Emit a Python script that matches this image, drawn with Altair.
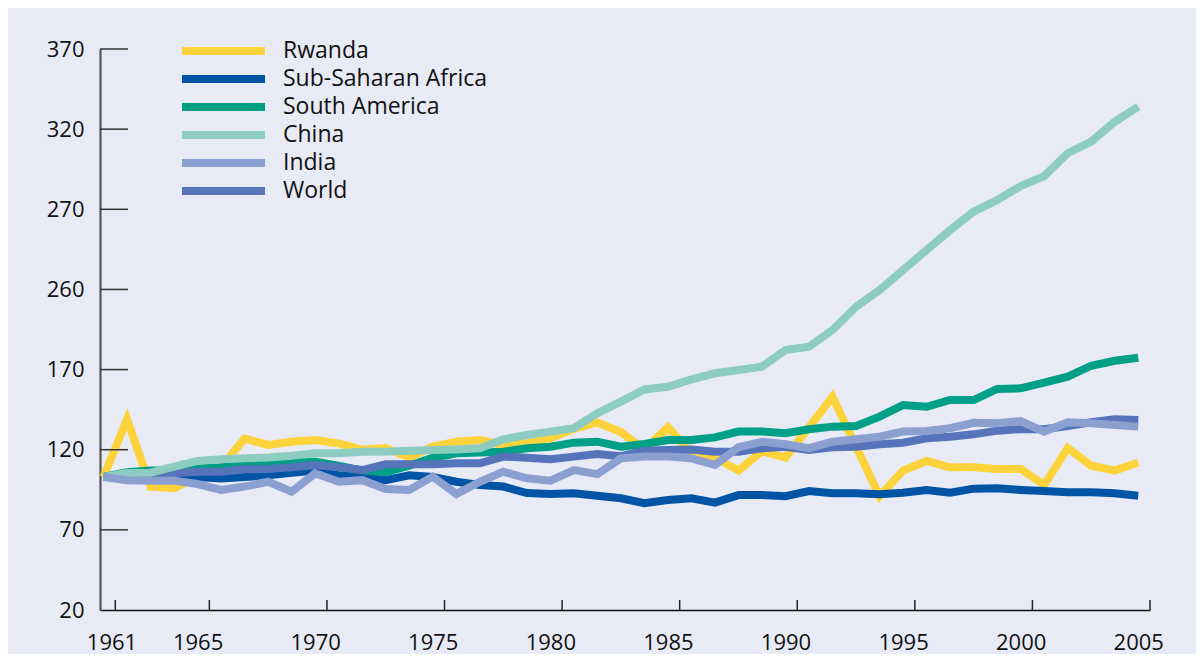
import altair as alt
import pandas as pd

years = list(range(1961, 2006))

rwanda = [103, 139, 97, 96, 103, 109, 127, 123, 125, 126, 124, 120, 121, 115, 122,
          125, 126, 123, 124, 127, 133, 137, 131, 120, 134, 118, 115, 107, 119, 115,
          134, 153, 122, 91, 107, 113, 109, 109, 108, 108, 98, 121, 110, 107, 112]
sub_saharan = [103, 105, 106, 105, 103, 102, 103, 104, 105.6, 107, 104, 103, 101, 104, 103,
               100, 98, 97, 93, 92.4, 92.8, 91.3, 89.7, 86.6, 88.6, 89.7, 87, 91.7, 91.7, 91,
               94.2, 92.8, 92.8, 92.2, 93.2, 94.9, 93.2, 95.7, 95.9, 94.9, 94.2, 93.4, 93.4, 92.8, 91.3]
south_america = [103, 106, 107, 107, 108.6, 109, 110, 111, 112, 112.5, 110, 107, 106, 110, 115,
                 117.8, 118.2, 118.8, 120.9, 121.9, 124.4, 125, 121.9, 123.6, 126, 126, 127.7, 131.3, 131.3, 130.3,
                 132.8, 134.4, 134.8, 140.6, 147.9, 146.8, 151, 151, 157.9, 158.3, 161.8, 165.6, 172.4, 175.5, 177.4]
china = [103, 105.5, 105.7, 109.4, 113, 114, 114.6, 115.2, 116.3, 117.8, 117.8, 118.8, 118.8, 119.4, 119.8,
         120.2, 120.9, 126.5, 129.2, 131.3, 133.4, 142.8, 150, 157.6, 159.3, 163.9, 167.7, 169.7, 171.8, 182.2,
         184.3, 194.7, 209.2, 219.6, 232.1, 244.6, 257, 268.5, 275.8, 284.5, 290.7, 305, 312.2, 324.6, 334]
india = [103, 101, 100.7, 100.7, 98.6, 94.9, 97, 100, 93.8, 105.3, 100, 101, 95.5, 94.9, 103.2,
         92.4, 100, 106.3, 102.2, 100.7, 107.3, 104.8, 114.6, 115.7, 115.7, 114.6, 110.5, 121.5, 125, 123.4,
         121, 125, 126.5, 128.1, 131.3, 131.7, 133.4, 136.8, 136.5, 137.9, 131.3, 137.1, 136.5, 135.4, 134.4]
world = [103, 102.8, 103.5, 105.3, 106.3, 106.3, 107.8, 108, 109, 110.5, 109, 107.3, 111, 111, 111,
         111.5, 111.5, 115.7, 115, 114, 115.7, 117.3, 116, 119.4, 119.8, 120.2, 118.8, 118.8, 120.9, 121.9,
         119.8, 121.5, 121.9, 123.4, 124.4, 127.1, 128.1, 129.6, 131.9, 132.8, 132.8, 134.8, 137.1, 139, 138.5]

series_names = ["Rwanda", "Sub-Saharan Africa", "South America", "China", "India", "World"]
series_colors = ["#FDD33B", "#0054A6", "#00A086", "#8DCDC1", "#8C9FD1", "#5574B9"]
series_values = [rwanda, sub_saharan, south_america, china, india, world]
draw_order = ["Rwanda", "Sub-Saharan Africa", "South America", "World", "China", "India"]

x_tick_years = [1961, 1965, 1970, 1975, 1980, 1985, 1990, 1995, 2000, 2005]
y_tick_values = [20, 70, 120, 170, 220, 270, 320, 370]
y_tick_labels = ["20", "70", "120", "170", "260", "270", "320", "370"]

rows = []
for name, vals in zip(series_names, series_values):
    for yr, v in zip(years, vals):
        rows.append({"year": yr, "value": v, "series": name})
df = pd.DataFrame(rows)

df_xt = pd.DataFrame({"year": x_tick_years})
df_yt = pd.DataFrame({"v": [v for v in y_tick_values if v > y_tick_values[0]]})

FONT = "Open Sans"
x_scale = alt.Scale(domain=[1960.85, 2005.5], nice=False, zero=False)
y_scale = alt.Scale(domain=[y_tick_values[0], y_tick_values[-1]], nice=False, zero=False)
color_scale = alt.Scale(domain=series_names, range=series_colors)

label_expr = "".join(
    f"datum.value == {v} ? '{l}' : " for v, l in zip(y_tick_values, y_tick_labels)
) + "datum.label"

x_axis = alt.Axis(values=x_tick_years, format="d", title=None, grid=False, ticks=False,
                  tickSize=0, labelPadding=22, labelFontSize=22, labelFont=FONT,
                  labelColor="#111111", domainColor="#111111", domainWidth=1.5,
                  labelOverlap=False,
                  labelOffset={"condition": {"test": f"datum.value == {x_tick_years[0]}", "value": 8},
                               "value": 0})
y_axis = alt.Axis(values=y_tick_values, labelExpr=label_expr, title=None, grid=False,
                  ticks=False, tickSize=0, labelPadding=16, labelFontSize=22, labelFont=FONT,
                  labelColor="#111111", domainColor="#555555", domainWidth=2.2,
                  labelOverlap=False)

legend = alt.Legend(orient="none", legendX=82, legendY=-12, title=None,
                    symbolType="M-5,0L5,0", symbolSize=275.6, symbolStrokeWidth=8,
                    symbolOffset=29, labelOffset=47, labelFontSize=23, labelFont=FONT,
                    labelColor="#111111", rowPadding=0, clipHeight=28, padding=0,
                    labelLimit=500, symbolOpacity=1)

layers = []
for name in draw_order:
    layers.append(
        alt.Chart(df).transform_filter(alt.datum.series == name)
        .mark_line(strokeWidth=8, strokeJoin="miter", strokeCap="butt")
        .encode(
            x=alt.X("year:Q", scale=x_scale, axis=x_axis),
            y=alt.Y("value:Q", scale=y_scale, axis=y_axis),
            color=alt.Color("series:N", scale=color_scale, legend=legend),
        )
    )

y_ticks = alt.Chart(df_yt).mark_rule(color="#333333", strokeWidth=1.5).encode(
    y=alt.Y("v:Q", scale=y_scale, axis=y_axis),
    x=alt.value(0),
    x2=alt.value(28),
)
x_ticks = alt.Chart(df_xt).transform_calculate(pos="datum.year + 0.5").mark_rule(
    color="#222222", strokeWidth=1.5
).encode(
    x=alt.X("pos:Q", scale=x_scale, axis=x_axis),
    y=alt.value(561),
    y2=alt.value(551),
)

chart = alt.layer(*layers, y_ticks, x_ticks).properties(
    width=1050,
    height=561,
    autosize=alt.AutoSizeParams(type="none"),
    padding={"left": 92, "top": 41, "right": 46, "bottom": 44},
    background="#E8EAF6",
).configure_view(stroke=None)

chart.save("out.html", embed_options={"renderer": "svg", "actions": False})
